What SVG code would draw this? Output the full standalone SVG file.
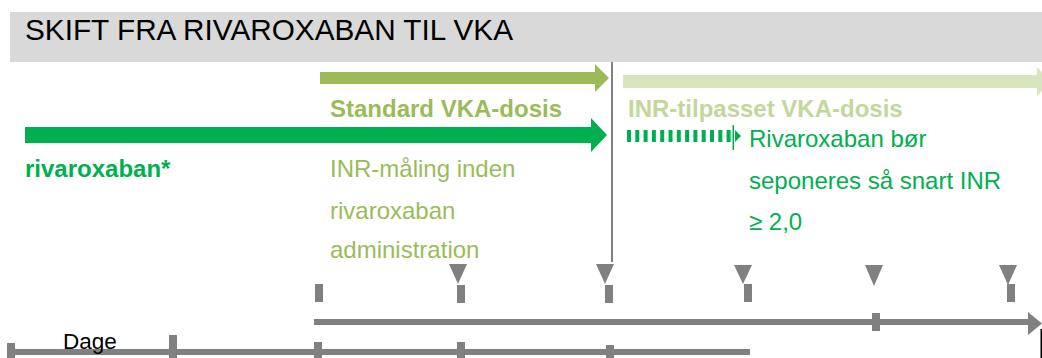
<svg xmlns="http://www.w3.org/2000/svg" width="1042" height="358" viewBox="0 0 1042 358">
<style>
text{font-family:"Liberation Sans",Arial,sans-serif}
.b{font-weight:bold}
.grey{fill:#808080}
.tri{fill:#808080}
.t24{font-size:24px}
</style>
<rect width="1042" height="358" fill="#FFFFFF"/>
<g id="header">
<rect x="10" y="12" width="1032" height="50" fill="#D9D9D9"/>
<text x="25" y="40" font-size="29.5" textLength="488" lengthAdjust="spacingAndGlyphs" fill="#000000">SKIFT FRA RIVAROXABAN TIL VKA</text>
</g>
<g id="divider">
<rect x="611" y="62" width="2" height="200" class="grey"/>
</g>
<g id="connectors">
<g id="arrow-standard-vka">
<rect x="320" y="72" width="276" height="12" fill="#9BBB59"/>
<polygon points="595,64 609,78 595,92" fill="#9BBB59"/>
</g>
<g id="arrow-inr-vka">
<rect x="623" y="75" width="415" height="13" fill="#D7E4BD"/>
<polygon points="1037,67 1051,81.5 1037,96" fill="#D7E4BD"/>
</g>
<g id="arrow-rivaroxaban">
<rect x="25" y="127" width="568" height="16" fill="#00B050"/>
<polygon points="591,118 607,135 591,152" fill="#00B050"/>
</g>
<g id="arrow-rivaroxaban-dashed">
<line x1="627" y1="136" x2="731" y2="136" stroke="#00B050" stroke-width="12" stroke-dasharray="4 4.3"/>
<rect x="732.5" y="125" width="1.5" height="25" fill="#00B050"/>
<polygon points="735,130 741,136 735,142" fill="#00B050"/>
</g>
</g>
<g id="label-standard">
<text x="330" y="117" class="b t24" fill="#9BBB59">Standard VKA-dosis</text>
</g>
<g id="label-inr-tilpasset">
<text x="628" y="117" class="b t24" fill="#C3D69B">INR-tilpasset VKA-dosis</text>
</g>
<g id="label-rivaroxaban">
<text x="25" y="177" class="b t24" fill="#00B050">rivaroxaban*</text>
</g>
<g id="label-inr-maling">
<text x="330" y="177" class="t24" fill="#9BBB59">INR-måling inden</text>
<text x="330" y="219" class="t24" fill="#9BBB59">rivaroxaban</text>
<text x="330" y="258" class="t24" fill="#9BBB59">administration</text>
</g>
<g id="label-seponeres">
<text x="749" y="147" class="t24" fill="#00B050">Rivaroxaban bør</text>
<text x="749" y="189" class="t24" fill="#00B050">seponeres så snart INR</text>
<text x="749" y="230" class="t24" fill="#00B050">≥ 2,0</text>
</g>
<g id="timeline-top">
<rect x="314" y="319" width="715" height="6" class="grey"/>
<polygon points="1028,312 1042,323.5 1028,335" class="grey"/>
<rect x="872" y="313" width="8" height="18" class="grey"/>
<rect x="315" y="284" width="8" height="18" class="grey"/>
<rect x="457" y="285" width="8" height="18" class="grey"/>
<rect x="605" y="285" width="8" height="18" class="grey"/>
<rect x="744" y="284" width="8" height="18" class="grey"/>
<rect x="1007" y="284" width="8" height="18" class="grey"/>
<polygon points="449,264 467,264 458,284" class="tri"/>
<polygon points="596,264 614,264 605,284" class="tri"/>
<polygon points="734,265 752,265 743,284" class="tri"/>
<polygon points="865,265 883,265 874,286" class="tri"/>
<polygon points="999,265 1017,265 1008,285" class="tri"/>
<rect x="1040.5" y="329" width="1.5" height="29" fill="#000000"/>
</g>
<g id="timeline-bottom">
<rect x="7" y="349" width="743" height="6" class="grey"/>
<rect x="7" y="343" width="8" height="15" class="grey"/>
<rect x="169" y="335" width="8" height="23" class="grey"/>
<rect x="314" y="342" width="8" height="16" class="grey"/>
<rect x="457" y="342" width="8" height="16" class="grey"/>
<rect x="606" y="345" width="8" height="13" class="grey"/>
<text x="63" y="349" font-size="22.5" fill="#000000">Dage</text>
</g>
</svg>
